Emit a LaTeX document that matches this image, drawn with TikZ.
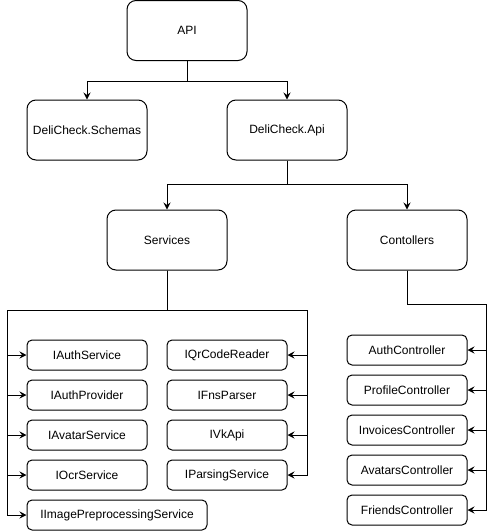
\documentclass[tikz,border=0pt]{standalone}
\usepackage{fontspec}
\setmainfont{Liberation Sans}
\usetikzlibrary{arrows.meta}
\begin{document}
\begin{tikzpicture}[x=1pt,y=-1pt,
  box/.style={draw, line width=1pt, rounded corners=9pt, minimum width=120pt, minimum height=60pt, inner sep=0pt, font=\fontsize{12}{14}\selectfont},
  sbox/.style={draw, line width=1pt, rounded corners=5pt, minimum width=120pt, minimum height=30pt, inner sep=0pt, font=\fontsize{12}{14}\selectfont},
  conn/.style={line width=1pt, -{Stealth[length=7pt,width=7pt,inset=2.5pt]}}]
\useasboundingbox (0,0) rectangle (496,531);
% main nodes
\node[box] (api) at (187,30.5) {API};
\node[box] (schemas) at (87,130) {DeliCheck.Schemas};
\node[box] (dapi) at (287,130) {DeliCheck.Api};
\node[box] (serv) at (167,240) {Services};
\node[box] (ctrl) at (407,240) {Contollers};
% services left column
\node[sbox] (iauth) at (87,355) {IAuthService};
\node[sbox] (iprov) at (87,395) {IAuthProvider};
\node[sbox] (iavat) at (87,435) {IAvatarService};
\node[sbox] (iocr) at (87,475) {IOcrService};
\node[sbox, minimum width=180pt] (iimg) at (117,515) {IImagePreprocessingService};
% services right column
\node[sbox] (iqr) at (227,355) {IQrCodeReader};
\node[sbox] (ifns) at (227,395) {IFnsParser};
\node[sbox] (ivk) at (227,435) {IVkApi};
\node[sbox] (ipars) at (227,475) {IParsingService};
% controllers
\node[sbox] (cauth) at (407,350) {AuthController};
\node[sbox] (cprof) at (407,390) {ProfileController};
\node[sbox] (cinv) at (407,430) {InvoicesController};
\node[sbox] (cavat) at (407,470) {AvatarsController};
\node[sbox] (cfri) at (407,510) {FriendsController};
% connectors
\draw[conn] (api.south) -- ++(0,20) -| (schemas.north);
\draw[conn] (api.south) -- ++(0,20) -| (dapi.north);
\draw[conn] (dapi.south) -- ++(0,24) -| (serv.north);
\draw[conn] (dapi.south) -- ++(0,24) -| (ctrl.north);
\coordinate (sl) at (7,310);
\coordinate (sr) at (307,310);
\coordinate (cr) at (486,304);
\foreach \t in {iauth,iprov,iavat,iocr,iimg}
  \draw[conn] (serv.south) |- (sl) |- (\t.west);
\foreach \t in {iqr,ifns,ivk,ipars}
  \draw[conn] (serv.south) |- (sr) |- (\t.east);
\foreach \t in {cauth,cprof,cinv,cavat,cfri}
  \draw[conn] (ctrl.south) |- (cr) |- (\t.east);
\end{tikzpicture}
\end{document}
